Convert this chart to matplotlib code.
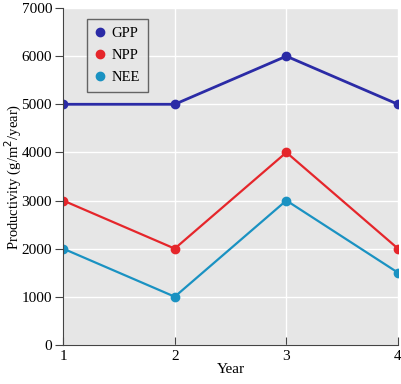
import matplotlib.pyplot as plt

years = [1, 2, 3, 4]
gpp = [5000, 5000, 6000, 5000]
npp = [3000, 2000, 4000, 2000]
nee = [2000, 1000, 3000, 1500]

plt.rcParams['font.family'] = ['Liberation Serif', 'DejaVu Serif']

fig = plt.figure(figsize=(4.02, 3.84), dpi=100)
ax = fig.add_axes([0.157, 0.102, 0.833, 0.877])
ax.set_facecolor('#e6e6e6')

ax.plot(years, gpp, color='#2b2ba6', lw=2, marker='o', ms=6, label='GPP')
ax.plot(years, npp, color='#e5262b', lw=1.6, marker='o', ms=6, label='NPP')
ax.plot(years, nee, color='#1a92c2', lw=1.6, marker='o', ms=6, label='NEE')

ax.set_xlim(1, 4)
ax.set_ylim(0, 7000)
ax.set_xticks(years)
ax.set_yticks(range(0, 7001, 1000))
ax.grid(True, color='white', lw=1)
ax.set_axisbelow(True)
for s in ['top', 'right']:
    ax.spines[s].set_visible(False)
for s in ['left', 'bottom']:
    ax.spines[s].set_color('#444444')
ax.tick_params(axis='y', direction='out', length=6, labelsize=11, color='#444444', pad=2)
ax.tick_params(axis='x', direction='in', length=6, labelsize=11, color='#444444')
ax.set_xlabel('Year', fontsize=11, labelpad=0)
ax.set_ylabel('Productivity (g/m$^2$/year)', fontsize=10.5)
ax.yaxis.set_label_coords(-0.118, 0.5)

leg = ax.legend(loc='upper left', bbox_to_anchor=(0.072, 0.967), frameon=True,
                fancybox=False, edgecolor='#444444', facecolor='#e6e6e6',
                handlelength=0.6, handletextpad=0.5, fontsize=10.5,
                borderpad=0.55, labelspacing=0.6, borderaxespad=0)
for h in leg.legend_handles:
    h.set_linestyle('')
leg.get_frame().set_linewidth(1)

fig.savefig('out.png', dpi=100)
